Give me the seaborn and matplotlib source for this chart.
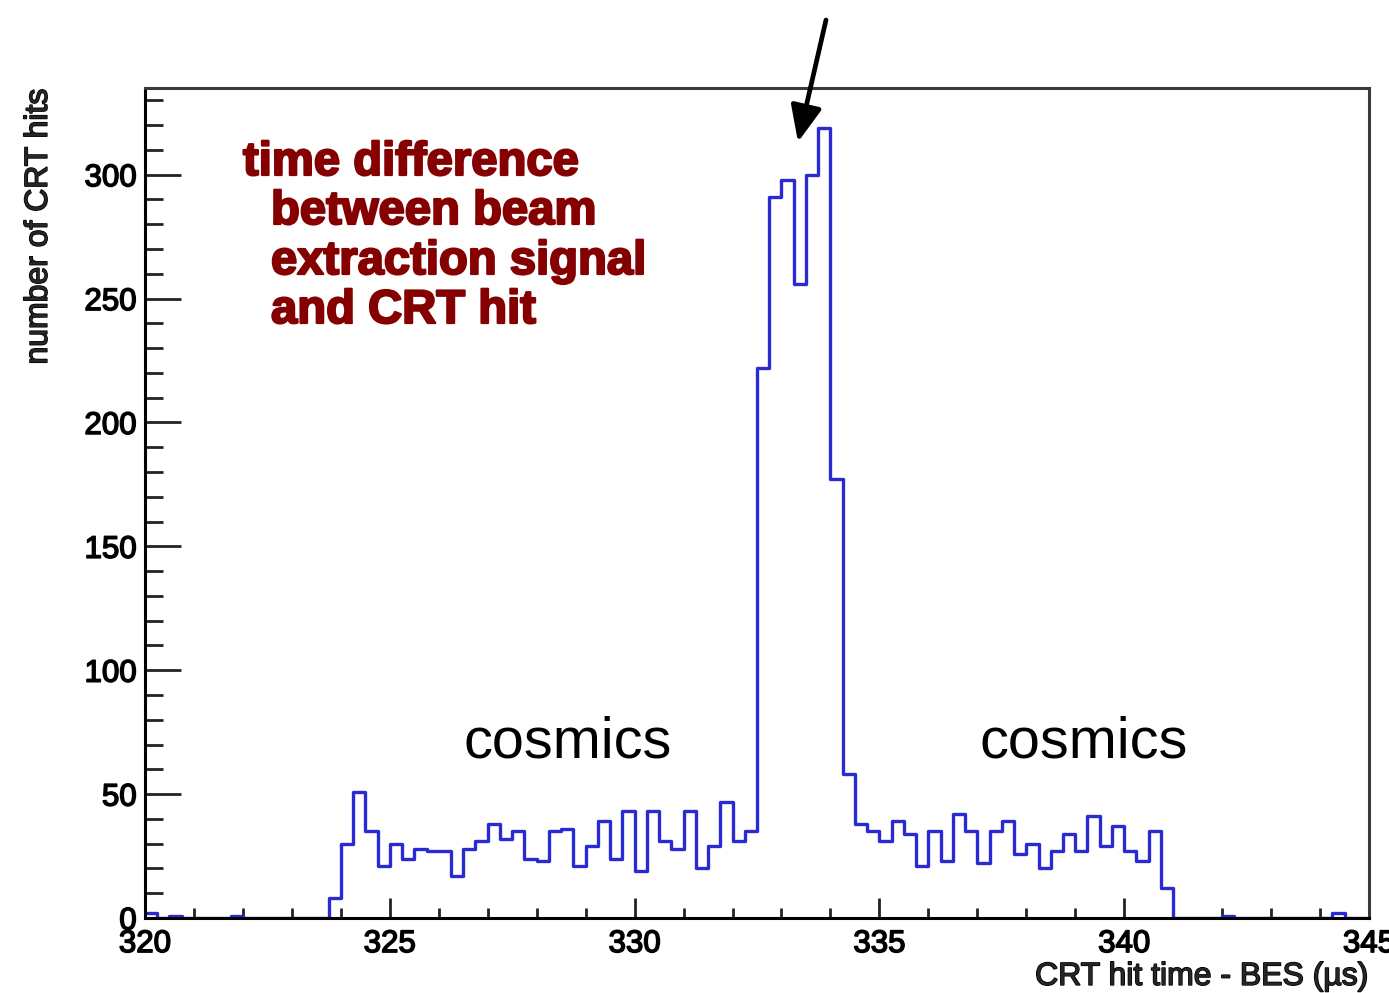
import numpy as np
import pandas as pd
import seaborn as sns
import matplotlib
matplotlib.use("Agg")
import matplotlib.pyplot as plt
import matplotlib.patheffects as pe
from matplotlib.ticker import MultipleLocator

# ---- data ----
x_min, x_max, n_bins = 320.0, 345.0, 100
counts = [
    2, 0, 1, 0, 0, 0, 0, 1, 0, 0,
    0, 0, 0, 0, 0, 8, 30, 51, 35, 21,
    30, 24, 28, 27, 27, 17, 28, 31, 38, 32,
    35, 24, 23, 35, 36, 21, 29, 39, 24, 43,
    19, 43, 31, 28, 43, 20, 29, 47, 31, 35,
    222, 291, 298, 256, 300, 319, 177, 58, 38, 35,
    31, 39, 34, 21, 35, 23, 42, 35, 22, 35,
    39, 26, 30, 20, 27, 34, 27, 41, 29, 37,
    27, 23, 35, 12, 0, 0, 0, 0, 1, 0,
    0, 0, 0, 0, 0, 0, 0, 2, 0, 0,
]
x_ticks = [320, 325, 330, 335, 340, 345]
y_ticks = [0, 50, 100, 150, 200, 250, 300]
y_top = 335
x_label = "CRT hit time - BES (\u00b5s)"
y_label = "number of CRT hits"
note_lines = ["time difference", "between beam", "extraction signal", "and CRT hit"]
cosmics_label = "cosmics"

width = (x_max - x_min) / n_bins
centers = x_min + width * (np.arange(n_bins) + 0.5)
df = pd.DataFrame({"t": centers, "n": counts})

# ---- style ----
sns.set_style("white")
plt.rcParams["font.family"] = ["Liberation Sans", "DejaVu Sans"]

fig = plt.figure(figsize=(13.89, 9.93), dpi=100)
ax = fig.add_axes([145 / 1389, 1 - 918 / 993, (1369 - 145) / 1389, (918 - 88) / 993])

sns.histplot(data=df, x="t", weights="n", bins=n_bins, binrange=(x_min, x_max),
             element="step", fill=False, color="#2a2ad4", linewidth=2.4, ax=ax)

ax.set_xlim(x_min, x_max)
ax.set_ylim(0, y_top)
ax.set_xticks(x_ticks)
ax.set_yticks(y_ticks)
ax.xaxis.set_minor_locator(MultipleLocator(1))
ax.yaxis.set_minor_locator(MultipleLocator(10))

for s in ax.spines.values():
    s.set_color("#3a3a3a")
    s.set_linewidth(2.2)
ax.spines["left"].set_color("black")
ax.spines["bottom"].set_color("black")

ax.tick_params(axis="x", which="major", direction="in", length=14.4, width=2, pad=8,
               labelsize=22.5, bottom=True, top=False, colors="#222222", labelcolor="black")
ax.tick_params(axis="x", which="minor", direction="in", length=7.2, width=2,
               bottom=True, top=False, colors="#222222")
ax.tick_params(axis="y", which="major", direction="in", length=26, width=2, pad=6,
               labelsize=22.5, left=True, right=False, colors="#222222", labelcolor="black")
ax.tick_params(axis="y", which="minor", direction="in", length=13, width=2,
               left=True, right=False, colors="#222222")

ax.set_xlabel(x_label, fontsize=23, loc="right", labelpad=2)
ax.set_ylabel(y_label, fontsize=23, loc="top", labelpad=22)

heavy = [pe.withStroke(linewidth=1.1, foreground="black")]
for lab in ax.get_xticklabels() + ax.get_yticklabels():
    lab.set_path_effects(heavy)
ax.xaxis.label.set_path_effects(heavy)
ax.yaxis.label.set_path_effects(heavy)

# ---- annotations ----
red = "#850000"
to_data = ax.transData.inverted()
def px(xp, yp):
    # figure pixel (from top-left) -> data coordinates
    return to_data.transform((xp, 993 - yp))

fig.canvas.draw()
note_pos = [(243, 175), (271, 224), (271, 274), (271, 323)]
for line, (xp, yp) in zip(note_lines, note_pos):
    xd, yd = px(xp, yp)
    ax.text(xd, yd, line, color=red, fontsize=34, fontweight="bold",
            ha="left", va="baseline",
            path_effects=[pe.withStroke(linewidth=1.6, foreground=red)])

for xp in (463, 980):
    xd, yd = px(xp, 757)
    ax.text(xd, yd, cosmics_label, color="black", fontsize=41.5,
            ha="left", va="baseline")

tail = px(826, 20)
head = px(798, 142)
ax.annotate("", xy=head, xytext=tail, annotation_clip=False,
            arrowprops=dict(arrowstyle="-|>,head_length=2.2,head_width=0.95",
                            color="black", lw=3.4, shrinkA=0, shrinkB=0))

fig.savefig("out.png", dpi=100)
